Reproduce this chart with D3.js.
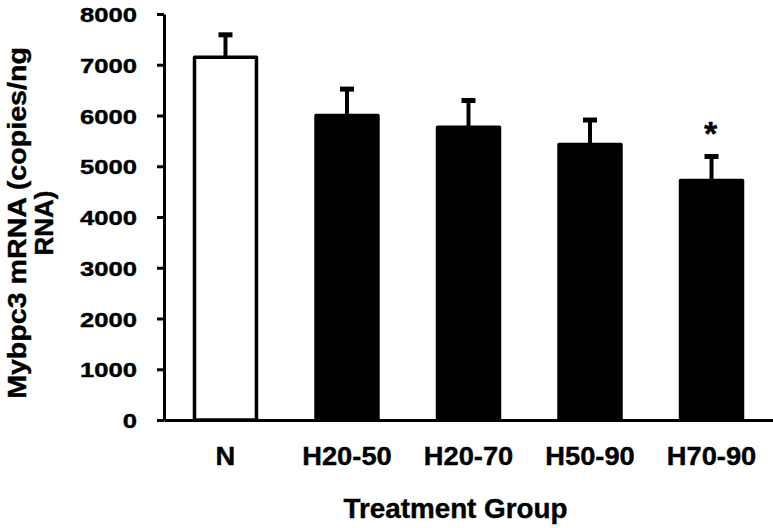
<!DOCTYPE html>
<html><head><meta charset="utf-8">
<script src="https://cdn.jsdelivr.net/npm/d3@7"></script>
<style>
body{margin:0;background:#fff}
svg{display:block}
text{font-family:"Liberation Sans",Arial,Helvetica,sans-serif;font-weight:bold;fill:#000;stroke:#000;stroke-width:0.4px}
</style>
</head><body><svg id="chart" width="773" height="528"></svg>
<script>
const categories = ["N", "H20-50", "H20-70", "H50-90", "H70-90"];
const means = [7150, 6000, 5770, 5430, 4720];
const errors = [440, 520, 526, 481, 472];
const fills = ["white", "black", "black", "black", "black"];
const significant = [false, false, false, false, true];
const yTicks = [0, 1000, 2000, 3000, 4000, 5000, 6000, 7000, 8000];
const yTitleLines = ["Mybpc3 mRNA (copies/ng", "RNA)"];
const xTitle = "Treatment Group";

const svg = d3.select("#chart");
const y = d3.scaleLinear().domain([0, 8000]).range([420, 14]);
const x = d3.scaleBand().domain(categories).range([164, 773]).paddingInner(0.49).paddingOuter(0.251);

function stretch(sel, k) {
  sel.each(function () {
    const w = this.getComputedTextLength();
    this.setAttribute("textLength", w * k);
    this.setAttribute("lengthAdjust", "spacingAndGlyphs");
  });
}

const data = categories.map((c, i) => ({c, m: means[i], e: errors[i], f: fills[i], s: significant[i]}));

// error bars (upper only)
const eb = svg.append("g");
eb.selectAll("line.v").data(data).join("line")
  .attr("x1", d => x(d.c) + x.bandwidth() / 2).attr("x2", d => x(d.c) + x.bandwidth() / 2)
  .attr("y1", d => y(d.m)).attr("y2", d => y(d.m + d.e))
  .attr("stroke", "#000").attr("stroke-width", 4);
eb.selectAll("line.cap").data(data).join("line")
  .attr("x1", d => x(d.c) + x.bandwidth() / 2 - 7).attr("x2", d => x(d.c) + x.bandwidth() / 2 + 7)
  .attr("y1", d => y(d.m + d.e)).attr("y2", d => y(d.m + d.e))
  .attr("stroke", "#000").attr("stroke-width", 5);

// bars
svg.append("g").selectAll("rect").data(data).join("rect")
  .attr("x", d => x(d.c)).attr("width", x.bandwidth())
  .attr("y", d => y(d.m)).attr("height", d => y(0) - y(d.m))
  .attr("fill", d => d.f).attr("stroke", "#000").attr("stroke-width", 3.5)
  .attr("stroke-linejoin", "round");

// significance
svg.append("g").selectAll("text").data(data.filter(d => d.s)).join("text")
  .attr("x", d => x(d.c) + x.bandwidth() / 2 - 1)
  .attr("y", d => y(d.m + d.e) - 12)
  .attr("text-anchor", "middle").style("font-size", "34px").text("*");

// y axis
const gy = svg.append("g").attr("transform", "translate(164,0)")
  .call(d3.axisLeft(y).tickValues(yTicks).tickSize(7).tickSizeOuter(0).tickPadding(20).tickFormat(d3.format("d")));
gy.select(".domain").attr("stroke-width", 3);
gy.selectAll(".tick line").attr("stroke-width", 3);
gy.selectAll(".tick text").style("font-size", "21px").attr("dy", "0.36em")
  .style("font-family", "'Liberation Sans',Arial,sans-serif").style("font-weight", "bold");
stretch(gy.selectAll(".tick text"), 1.22);

// x axis
const gx = svg.append("g").attr("transform", "translate(0,420)")
  .call(d3.axisBottom(x).tickSize(0).tickSizeOuter(0));
gx.select(".domain").attr("stroke-width", 3);
gx.selectAll(".tick text").attr("y", 45).attr("dy", 0).style("font-size", "26px")
  .style("font-family", "'Liberation Sans',Arial,sans-serif").style("font-weight", "bold");
stretch(gx.selectAll(".tick text"), 1.05);

// x title
const xt = svg.append("text").attr("x", 455.5).attr("y", 518).attr("text-anchor", "middle")
  .style("font-size", "27px").text(xTitle);
stretch(xt, 1.03);

// y title
const ytBase = [26, 53];
const yt = svg.append("g").selectAll("text").data(yTitleLines).join("text")
  .attr("transform", (d, i) => `translate(${ytBase[i]},223) rotate(-90)`)
  .attr("text-anchor", "middle").style("font-size", "26px").text(d => d);
stretch(yt.filter((d, i) => i === 0), 1.1);
</script>
</body></html>
